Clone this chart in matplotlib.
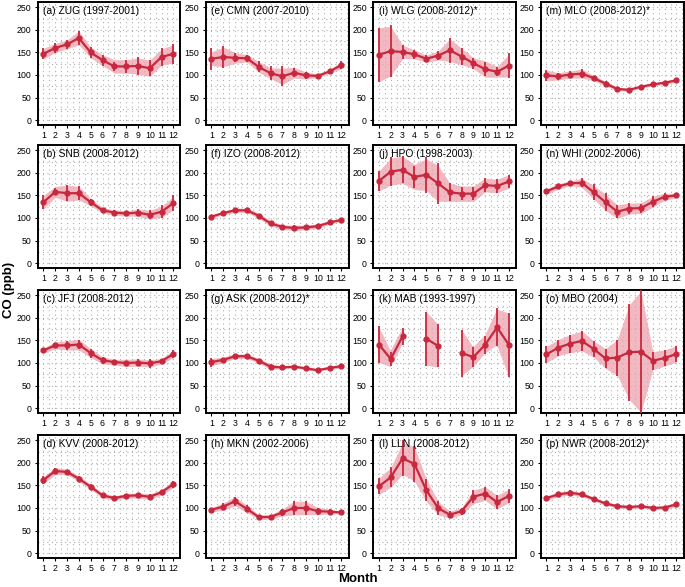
import numpy as np
import matplotlib
matplotlib.use("Agg")
import matplotlib.pyplot as plt
from matplotlib.ticker import MultipleLocator

plt.rcParams['font.family'] = ['Liberation Sans', 'DejaVu Sans']

months = list(range(1, 13))
nan = np.nan

titles = {
    'ZUG': '(a) ZUG (1997-2001)', 'SNB': '(b) SNB (2008-2012)', 'JFJ': '(c) JFJ (2008-2012)',
    'KVV': '(d) KVV (2008-2012)', 'CMN': '(e) CMN (2007-2010)', 'IZO': '(f) IZO (2008-2012)',
    'ASK': '(g) ASK (2008-2012)*', 'MKN': '(h) MKN (2002-2006)', 'WLG': '(i) WLG (2008-2012)*',
    'HPO': '(j) HPO (1998-2003)', 'MAB': '(k) MAB (1993-1997)', 'LLN': '(l) LLN (2008-2012)',
    'MLO': '(m) MLO (2008-2012)*', 'WHI': '(n) WHI (2002-2006)', 'MBO': '(o) MBO (2004)',
    'NWR': '(p) NWR (2008-2012)*',
}

# monthly mean CO (ppb)
zug_mean = [147, 160, 168, 182, 150, 133, 119, 119, 120, 115, 140, 147]
snb_mean = [135, 158, 155, 155, 135, 117, 112, 110, 112, 107, 114, 133]
jfj_mean = [128, 139, 139, 141, 122, 106, 102, 100, 101, 99, 104, 120]
kvv_mean = [162, 182, 180, 165, 147, 128, 122, 127, 128, 125, 135, 153]
cmn_mean = [136, 140, 138, 137, 118, 104, 97, 105, 99, 98, 108, 122]
izo_mean = [103, 111, 117, 117, 105, 88, 80, 78, 79, 82, 90, 96]
ask_mean = [102, 107, 115, 115, 105, 92, 90, 92, 88, 84, 89, 93]
mkn_mean = [96, 103, 115, 98, 80, 80, 90, 100, 100, 93, 92, 90]
wlg_mean = [145, 153, 151, 146, 136, 143, 155, 141, 126, 113, 107, 121]
hpo_mean = [182, 203, 207, 191, 196, 177, 157, 154, 154, 173, 171, 181]
mab_mean = [141, 109, 159, nan, 154, 138, nan, 122, 113, 141, 179, 140]
lln_mean = [148, 168, 210, 198, 140, 100, 85, 93, 125, 132, 113, 127]
mlo_mean = [99, 97, 101, 103, 93, 81, 69, 67, 74, 79, 83, 88]
whi_mean = [159, 170, 177, 178, 157, 135, 114, 121, 122, 136, 147, 150]
mbo_mean = [119, 134, 143, 149, 131, 110, 112, 124, 125, 105, 111, 120]
nwr_mean = [122, 130, 134, 130, 120, 110, 104, 102, 104, 100, 101, 108]

# error bar half-widths (ppb)
zug_err = [12, 12, 10, 15, 12, 12, 10, 15, 20, 18, 20, 22]
snb_err = [15, 8, 18, 15, 8, 5, 5, 5, 8, 10, 15, 18]
jfj_err = [5, 5, 10, 10, 10, 8, 5, 5, 8, 10, 5, 8]
kvv_err = [8, 6, 5, 6, 6, 4, 4, 5, 5, 6, 5, 8]
cmn_err = [25, 25, 10, 8, 12, 15, 22, 10, 8, 4, 4, 8]
izo_err = [3, 3, 4, 4, 4, 5, 4, 6, 3, 4, 3, 3]
ask_err = [10, 5, 5, 3, 4, 6, 3, 3, 3, 3, 3, 5]
mkn_err = [5, 8, 10, 8, 5, 5, 8, 15, 15, 8, 5, 3]
wlg_err = [60, 57, 15, 10, 8, 10, 28, 18, 12, 15, 10, 28]
hpo_err = [22, 32, 30, 25, 40, 45, 20, 15, 15, 15, 15, 15]
mab_err = [42, 15, 18, nan, 60, 48, nan, 52, 22, 20, 42, 70]
lln_err = [18, 22, 40, 40, 25, 15, 8, 8, 15, 15, 15, 15]
mlo_err = [12, 8, 8, 10, 5, 5, 4, 3, 3, 3, 4, 4]
whi_err = [6, 6, 4, 10, 18, 20, 15, 12, 10, 12, 8, 4]
mbo_err = [18, 18, 20, 22, 18, 22, 40, 108, 140, 20, 18, 18]
nwr_err = [5, 5, 5, 5, 4, 4, 4, 4, 4, 4, 4, 5]

# shaded band half-widths (ppb)
zug_band = [12, 10, 10, 15, 12, 12, 15, 15, 18, 18, 18, 20]
snb_band = [15, 12, 18, 15, 8, 6, 6, 6, 8, 10, 12, 15]
jfj_band = [5, 8, 10, 12, 10, 8, 6, 8, 8, 8, 6, 8]
kvv_band = [8, 8, 6, 6, 6, 5, 5, 5, 6, 6, 6, 8]
cmn_band = [15, 22, 12, 8, 12, 12, 18, 12, 8, 4, 4, 8]
izo_band = [3, 4, 5, 5, 6, 6, 5, 6, 5, 5, 4, 3]
ask_band = [8, 6, 5, 5, 5, 6, 3, 3, 3, 3, 3, 4]
mkn_band = [5, 8, 10, 8, 5, 5, 8, 15, 15, 8, 5, 3]
wlg_band = [60, 55, 15, 10, 8, 10, 25, 18, 12, 18, 12, 25]
hpo_band = [22, 30, 30, 28, 35, 40, 20, 17, 17, 15, 15, 15]
mab_band = [40, 18, 18, nan, 60, 48, nan, 52, 22, 20, 40, 70]
lln_band = [18, 22, 35, 38, 25, 15, 8, 8, 15, 15, 15, 15]
mlo_band = [12, 8, 8, 10, 6, 5, 4, 3, 3, 3, 4, 4]
whi_band = [6, 6, 5, 10, 15, 18, 15, 12, 12, 12, 8, 5]
mbo_band = [18, 18, 20, 22, 18, 22, 40, 105, 135, 20, 18, 18]
nwr_band = [5, 5, 5, 5, 4, 4, 4, 4, 4, 4, 4, 5]

stations = [
    ['ZUG', 'CMN', 'WLG', 'MLO'],
    ['SNB', 'IZO', 'HPO', 'WHI'],
    ['JFJ', 'ASK', 'MAB', 'MBO'],
    ['KVV', 'MKN', 'LLN', 'NWR'],
]
data = {
    'ZUG': (zug_mean, zug_err, zug_band), 'SNB': (snb_mean, snb_err, snb_band),
    'JFJ': (jfj_mean, jfj_err, jfj_band), 'KVV': (kvv_mean, kvv_err, kvv_band),
    'CMN': (cmn_mean, cmn_err, cmn_band), 'IZO': (izo_mean, izo_err, izo_band),
    'ASK': (ask_mean, ask_err, ask_band), 'MKN': (mkn_mean, mkn_err, mkn_band),
    'WLG': (wlg_mean, wlg_err, wlg_band), 'HPO': (hpo_mean, hpo_err, hpo_band),
    'MAB': (mab_mean, mab_err, mab_band), 'LLN': (lln_mean, lln_err, lln_band),
    'MLO': (mlo_mean, mlo_err, mlo_band), 'WHI': (whi_mean, whi_err, whi_band),
    'MBO': (mbo_mean, mbo_err, mbo_band), 'NWR': (nwr_mean, nwr_err, nwr_band),
}

W, H = 685, 587
fig = plt.figure(figsize=(W / 100, H / 100), dpi=100)

line_c = '#c8283e'
fill_c = '#eda2ae'

col_left = [37.5, 205.5, 373, 540.5]
row_top = [2, 145, 290, 435]
aw, ah = 143, 123

x = np.array(months, dtype=float)
for r in range(4):
    for c in range(4):
        key = stations[r][c]
        mean, err, band = (np.array(v, dtype=float) for v in data[key])
        ax = fig.add_axes([col_left[c] / W, 1 - (row_top[r] + ah) / H, aw / W, ah / H])
        ax.fill_between(x, mean - band, mean + band, color=fill_c, alpha=0.75, lw=0, zorder=2)
        ax.errorbar(x, mean, yerr=err, color=line_c, lw=1.6, elinewidth=1.3, capsize=0,
                    marker='o', ms=3.5, zorder=3)
        ax.set_xlim(0.5, 12.6)
        ax.set_ylim(-11, 262)
        ax.set_xticks(months)
        ax.set_yticks([0, 50, 100, 150, 200, 250])
        ax.xaxis.set_minor_locator(MultipleLocator(0.5))
        ax.yaxis.set_minor_locator(MultipleLocator(25))
        ax.grid(which='both', color='#b0b0b0', linestyle=(0, (1, 3)), lw=0.8, zorder=0)
        ax.tick_params(which='minor', length=0)
        ax.tick_params(which='major', length=2.5, width=0.8, labelsize=6.3, pad=2)
        for s in ax.spines.values():
            s.set_linewidth(1.4)
        ax.text(0.04, 0.965, titles[key], transform=ax.transAxes, ha='left', va='top',
                fontsize=7.4)

fig.text(9 / W, 1 - 290 / H, 'CO (ppb)', rotation=90, ha='center', va='center',
         fontsize=9.5, fontweight='bold')
fig.text(358 / W, 1 - 579 / H, 'Month', ha='center', va='center', fontsize=9.5,
         fontweight='bold')

fig.savefig('out.png', dpi=100)
